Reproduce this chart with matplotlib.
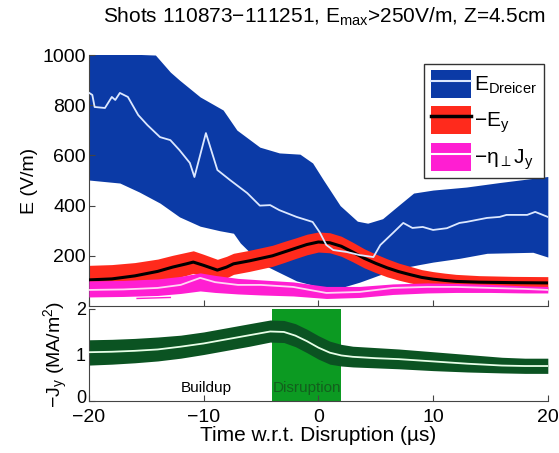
import matplotlib
matplotlib.use("Agg")
import matplotlib.pyplot as plt
import matplotlib.transforms as mtransforms
from matplotlib.patches import Patch
from matplotlib.lines import Line2D
import numpy as np

plt.rcParams['font.family'] = ['Liberation Sans', 'DejaVu Sans']
plt.rcParams['mathtext.fontset'] = 'custom'
plt.rcParams['mathtext.rm'] = 'Liberation Sans'
plt.rcParams['mathtext.it'] = 'Liberation Sans'
plt.rcParams['mathtext.fallback'] = 'stixsans'

# Dreicer field band (V/m)
dr_up_t = [-20, -14.2, -12.9, -12.1, -10.3, -8.3, -7.1, -5.1, -3.4, -1.6, -0.5, 0.4,
           1.9, 3.4, 4.3, 5.6, 7.1, 8.3, 10, 12.9, 15.8, 20]
dr_up = [1010, 1000, 932, 900, 833, 781, 701, 633, 610, 605, 570, 505,
         400, 338, 330, 348, 405, 450, 462, 474, 492, 516]
dr_lo_t = [-20, -17.3, -15.6, -13.8, -12.1, -10.3, -8.6, -7.4, -6.8, -6.0, -5.1, -3.6,
           -1.9, 0.1, 1.9, 3.6, 5.4, 7.1, 8.8, 10, 12.3, 14.7, 18.7, 20]
dr_lo = [502, 490, 454, 410, 355, 318, 300, 290, 251, 215, 172, 138,
         100, 76, 72, 95, 125, 150, 165, 175, 190, 210, 214, 195]
dr_t = [-20, -19.7, -19.5, -18.6, -18.0, -17.7, -17.3, -16.6, -15.7, -14.9, -13.8, -12.9,
        -12.1, -11.2, -10.8, -9.8, -8.8, -7.7, -6.2, -5.1, -4.2, -3.4, -1.9, -0.5,
        0.1, 0.7, 1.3, 2.5, 3.6, 4.8, 5.4, 6.5, 7.4, 8.2, 9.1, 10, 11.2, 12.3,
        12.9, 14.7, 15.8, 16.4, 18.2, 18.9, 20]
dr_mean = [850, 841, 793, 789, 833, 821, 849, 833, 761, 721, 673, 661,
           621, 570, 514, 689, 542, 502, 450, 400, 402, 382, 355, 335,
           295, 243, 223, 215, 203, 195, 243, 291, 331, 311, 315, 303, 310, 331,
           335, 351, 355, 363, 363, 375, 355]

# -E_y (V/m)
ey_t = [-20, -18, -16, -14, -12.7, -11.5, -10.9, -10, -8.8, -8, -7.4, -6, -4, -3, -2, -1,
        0, 1, 2, 3, 4, 5, 6, 7, 8, 9, 10, 11, 12, 14, 17, 20]
ey_mean = [104, 108, 120, 138, 155, 168, 175, 162, 143, 155, 168, 180, 200, 215, 230, 245,
           255, 252, 238, 215, 190, 170, 152, 137, 125, 114, 107, 102, 98, 95, 93, 92]
ey_err = [58, 57, 53, 49, 47, 46, 45, 44, 43, 43, 42, 42, 42, 42, 41, 41,
          40, 40, 40, 39, 38, 37, 36, 34, 33, 31, 30, 29, 28, 26, 25, 25]

# -eta_perp J_y (V/m)
eta_t = [-20, -17, -14, -12, -10.3, -9, -7, -5, -2.2, 0.7, 3.6, 6.5, 9.5, 12, 15, 18, 20]
eta_mean = [64, 66, 72, 84, 112, 95, 84, 84, 76, 52, 56, 72, 76, 76, 72, 68, 64]
eta_up = [100, 102, 108, 118, 132, 122, 110, 104, 96, 78, 78, 88, 92, 90, 86, 80, 78]
eta_lo = [36, 38, 42, 50, 60, 54, 48, 44, 40, 30, 34, 46, 52, 54, 54, 52, 52]
stray_t = [-15.8, -12.9]
stray_v = [30, 34]

# current density J_y (MA/m^2)
jy_t = [-20, -18, -16, -14, -12, -10, -8, -6, -4.2, -3, -2, -1, 0, 1, 2, 3, 5, 7, 10,
        13, 16, 18, 20]
jy_mean = [1.06, 1.07, 1.09, 1.12, 1.18, 1.25, 1.34, 1.43, 1.51, 1.50, 1.42, 1.30, 1.16,
           1.05, 0.99, 0.96, 0.93, 0.91, 0.86, 0.81, 0.77, 0.76, 0.76]
jy_up = [1.33, 1.34, 1.36, 1.39, 1.43, 1.50, 1.59, 1.68, 1.76, 1.75, 1.68, 1.56, 1.42,
         1.30, 1.23, 1.19, 1.16, 1.13, 1.07, 1.01, 0.95, 0.93, 0.93]
jy_lo = [0.78, 0.80, 0.83, 0.87, 0.93, 1.01, 1.10, 1.19, 1.28, 1.27, 1.18, 1.05, 0.91,
         0.80, 0.76, 0.74, 0.72, 0.70, 0.66, 0.63, 0.61, 0.60, 0.60]
disr_start, disr_end = -4.0, 2.0

blue = '#0b3aa6'
red = '#ff2a1c'
mag = '#ff1ed2'
dkgreen = '#0b5322'
ltgreen = '#0c9a22'

fig = plt.figure(figsize=(5.59, 4.53), dpi=100)
ax1 = fig.add_axes([0.159, 0.3245, 0.821, 0.554])
ax2 = fig.add_axes([0.159, 0.1148, 0.821, 0.2032])

# upper panel: electric fields
t_up = np.linspace(-20, 20, 801)
up_i = np.interp(t_up, dr_up_t, dr_up)
lo_i = np.interp(t_up, dr_lo_t, dr_lo)
ax1.fill_between(t_up, lo_i, up_i, color=blue, lw=0, zorder=1)
ey_m = np.array(ey_mean)
ey_e = np.array(ey_err)
ax1.fill_between(ey_t, ey_m - ey_e, ey_m + ey_e, color=red, lw=0, zorder=2)
ax1.plot(ey_t, ey_m, color='k', lw=2.2, zorder=3)
ax1.fill_between(eta_t, eta_lo, eta_up, color=mag, lw=0, zorder=4)
ax1.plot(eta_t, eta_mean, color='#ffd6f4', lw=1.3, zorder=5)
ax1.plot(stray_t, stray_v, color=mag, lw=1, zorder=4)
ax1.plot(dr_t, dr_mean, color='#dce8ff', lw=1.3, zorder=6)

ax1.set_xlim(-20, 20)
ax1.set_ylim(0, 1000)
ax1.set_yticks([200, 400, 600, 800, 1000])
ax1.set_xticks([-20, -10, 0, 10, 20])
ax1.set_xticklabels([])
ax1.set_ylabel('E (V/m)', fontsize=14, labelpad=3)

h_blue = (Patch(facecolor=blue), Line2D([], [], color='#dce8ff', lw=1.5))
h_red = (Patch(facecolor=red), Line2D([], [], color='k', lw=2.5))
h_mag = (Patch(facecolor=mag), Line2D([], [], color='white', lw=1.5))
leg = ax1.legend([h_blue, h_red, h_mag],
                 [r'$\mathrm{E_{Dreicer}}$', r'$\mathrm{-E_y}$', r'$\mathrm{-\eta_{\perp}J_y}$'],
                 loc='upper right', bbox_to_anchor=(0.991, 0.964), borderaxespad=0,
                 fontsize=15, handlelength=1.95, handleheight=1.65, handletextpad=0.15,
                 labelspacing=0.4, borderpad=0.3, fancybox=False, framealpha=1)
leg.get_frame().set_edgecolor('#333333')
leg.get_frame().set_linewidth(1.0)
leg.set_zorder(10)

fig.text(0.58, 1 - 17 / 453, r'Shots 110873$-$111251, E$_{\mathrm{max}}$>250V/m, Z=4.5cm',
         ha='center', va='center', fontsize=15)

# lower panel: current density
ax2.axvspan(disr_start, disr_end, color=ltgreen, lw=0, zorder=1)
ax2.fill_between(jy_t, jy_lo, jy_up, color=dkgreen, lw=0, zorder=2)
ax2.plot(jy_t, jy_mean, color='#e8ffe8', lw=1.3, zorder=3)
ax2.text(-12, 0.14, 'Buildup', fontsize=11, ha='left', va='bottom', zorder=4)
ax2.text(disr_start, 0.14, 'Disruption', fontsize=11, ha='left', va='bottom',
         color='#135f1d', zorder=4)
ax2.set_xlim(-20, 20)
ax2.set_ylim(0, 2)
ax2.set_yticks([0, 1, 2])
ax2.set_xticks([-20, -10, 0, 10, 20])
ax2.set_xlabel('Time w.r.t. Disruption (\u00b5s)', fontsize=15, labelpad=0)
ax2.set_ylabel(r'$\mathrm{-J_y\ (MA/m^2)}$', fontsize=14, labelpad=4)

for ax in (ax1, ax2):
    ax.spines['top'].set_visible(False)
    ax.spines['right'].set_visible(False)
    for s in ('left', 'bottom'):
        ax.spines[s].set_color('#444444')
        ax.spines[s].set_linewidth(0.8)
    ax.tick_params(direction='in', length=4, width=0.8, color='#444444',
                   labelsize=14, pad=2)
ax2.tick_params(axis='x', pad=6)
ax2.tick_params(axis='y', labelsize=13)

# lift the "0" label a little so it clears the "-20" below it
zero_lab = ax2.yaxis.get_major_ticks()[0].label1
zero_lab.set_transform(zero_lab.get_transform()
                       + mtransforms.ScaledTranslation(0, 0.04, fig.dpi_scale_trans))

fig.savefig('out.png', dpi=100)
